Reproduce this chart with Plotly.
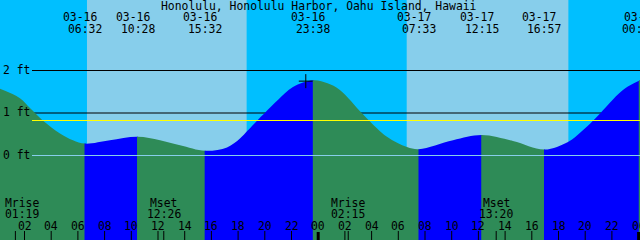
import plotly.graph_objects as go

# ---------------- data ----------------
title = "Honolulu, Honolulu Harbor, Oahu Island, Hawaii"

# tide curve samples: hours since 03-16 00:00, height in ft
curve_t = [0.165, 1.66, 2.41, 3.39, 4.66, 5.63, 6.533, 8.40, 10.467, 12.15, 13.65,
           15.533, 17.17, 18.14, 18.7, 19.42, 20.0, 21.0, 22.11, 23.633, 24.7, 25.6,
           27.26, 27.73, 29.15, 30.65, 31.55, 34.1, 36.25, 38.59, 40.95, 42.71,
           43.7, 44.58, 45.11, 46.08, 47.0, 48.105]
curve_ft = [1.57, 1.35, 1.12, 0.82, 0.52, 0.36, 0.28, 0.36, 0.44, 0.36, 0.24,
            0.11, 0.19, 0.40, 0.58, 0.82, 1.00, 1.31, 1.61, 1.77, 1.70, 1.55,
            1.00, 0.85, 0.44, 0.20, 0.15, 0.36, 0.48, 0.34, 0.14, 0.32,
            0.56, 0.82, 0.99, 1.32, 1.58, 1.77]

# high / low tide events
event_t = [6.533, 10.467, 15.533, 23.633, 31.55, 36.25, 40.95, 48.05]
event_date = ["03-16", "03-16", "03-16", "03-16", "03-17", "03-17", "03-17", "03-18"]
event_time = ["06:32", "10:28", "15:32", "23:38", "07:33", "12:15", "16:57", "00:03"]
first_segment_rising = False

# daylight
sunrise_t = [6.68, 30.63]
sunset_t = [18.64, 42.74]

# moon events
moon_t = [1.317, 12.433, 26.25, 37.333]
moon_name = ["Mrise", "Mset", "Mrise", "Mset"]
moon_time = ["01:19", "12:26", "02:15", "13:20"]

# hour ticks
hour_ticks = [0, 2, 4, 6, 8, 10, 12, 14, 16, 18, 20, 22,
              24, 26, 28, 30, 32, 34, 36, 38, 40, 42, 44, 46, 48]
hour_labels = ["00", "02", "04", "06", "08", "10", "12", "14", "16", "18", "20", "22",
               "00", "02", "04", "06", "08", "10", "12", "14", "16", "18", "20", "22", "00"]

# reference levels
level_ft = [2, 1, 0]
level_labels = ["2 ft", "1 ft", "0 ft"]
mean_level_ft = [0.8235]

# current-time marker
marker_t = [23.07]
marker_ft = [1.75]

# ---------------- styling / layout ----------------
W, H = 640, 240
PX_PER_H = 13.35
X_OFF = 2.2
T0 = X_OFF / PX_PER_H
T1 = (W + X_OFF) / PX_PER_H
Y0 = (155.5 - H) / 42.5
Y1 = 155.5 / 42.5

NIGHT = "#00BFFF"
DAY = "#87CEEB"
RISING = "#0000FF"
FALLING = "#2E8B57"
FONT = dict(family="DejaVu Sans Mono", size=11.4, color="black")


def t2px(t):
    return (t - T0) * PX_PER_H


fig = go.Figure()
layout = dict(
    width=W, height=H, margin=dict(l=0, r=0, t=0, b=0),
    paper_bgcolor=NIGHT, plot_bgcolor="rgba(0,0,0,0)",
    showlegend=False,
    xaxis=dict(domain=[0, 1], range=[T0, T1], visible=False, fixedrange=True),
    yaxis=dict(domain=[0, 1], range=[Y0, Y1], visible=False, fixedrange=True),
)
fig.add_trace(go.Scatter(x=[None], y=[None], xaxis="x", yaxis="y", hoverinfo="skip"))

# segments between tide extremes, each clipped by its own x axis
bounds = [T0] + [t for t in event_t if T0 < t < T1] + [T1]
rising = first_segment_rising
for i in range(len(bounds) - 1):
    ax_n = i + 2
    px0 = max(0.0, t2px(bounds[i]) - 0.5)
    px1 = min(float(W), t2px(bounds[i + 1]) + 0.5)
    layout[f"xaxis{ax_n}"] = dict(
        domain=[px0 / W, px1 / W],
        range=[T0 + px0 / PX_PER_H, T0 + px1 / PX_PER_H],
        visible=False, anchor="y", fixedrange=True)
    col = RISING if rising else FALLING
    fig.add_trace(go.Scatter(x=[curve_t[0], curve_t[-1]], y=[Y0 - 1, Y0 - 1],
                             mode="lines", line=dict(width=0, color=col),
                             xaxis=f"x{ax_n}", yaxis="y", hoverinfo="skip"))
    fig.add_trace(go.Scatter(x=curve_t, y=curve_ft, mode="lines",
                             line=dict(width=0, color=col, shape="spline"),
                             fill="tonexty", fillcolor=col,
                             xaxis=f"x{ax_n}", yaxis="y", hoverinfo="skip"))
    # current-time marker in the segment that contains it
    mx = [t for t in marker_t if bounds[i] <= t < bounds[i + 1]]
    if mx:
        my = [marker_ft[marker_t.index(t)] for t in mx]
        fig.add_trace(go.Scatter(x=mx, y=my, mode="markers",
                                 marker=dict(symbol="cross-thin", size=10,
                                             line=dict(width=1, color="black")),
                                 xaxis=f"x{ax_n}", yaxis="y", hoverinfo="skip"))
    rising = not rising

shapes = []
# daylight
for a, b in zip(sunrise_t, sunset_t):
    shapes.append(dict(type="rect", xref="x", yref="paper", x0=a, x1=b, y0=0, y1=1,
                       fillcolor=DAY, line=dict(width=0), layer="below"))
# reference lines behind the water
for lv in level_ft:
    if lv != 0:
        shapes.append(dict(type="line", xref="paper", yref="y", x0=32 / W, x1=1,
                           y0=lv, y1=lv, line=dict(color="black", width=1), layer="below"))
# zero line and mean level above the water
shapes.append(dict(type="line", xref="paper", yref="y", x0=32 / W, x1=1,
                   y0=0, y1=0, line=dict(color=DAY, width=1), layer="above"))
for lv in mean_level_ft:
    shapes.append(dict(type="line", xref="paper", yref="y", x0=32 / W, x1=1,
                       y0=lv, y1=lv, line=dict(color="#FFFF00", width=1), layer="above"))
# hour ticks
for h in hour_ticks:
    midnight = (h % 24 == 0)
    shapes.append(dict(type="line", xref="x", yref="paper", x0=h, x1=h,
                       y0=0, y1=(8 if midnight else 9) / H,
                       line=dict(color="black", width=3 if midnight else 1), layer="above"))
# moon ticks
for t in moon_t:
    shapes.append(dict(type="line", xref="x", yref="paper", x0=t, x1=t,
                       y0=0, y1=9 / H, line=dict(color="black", width=1), layer="above"))
layout["shapes"] = shapes


def py(p):
    return 1 - p / H


ann = []
ann.append(dict(text=title, xref="paper", yref="paper", x=318.5 / W, y=py(6),
                xanchor="center", yanchor="middle", showarrow=False, font=FONT))
for i, (t, d, tm) in enumerate(zip(event_t, event_date, event_time)):
    dx = -5 if i < len(event_t) - 1 else 2
    ann.append(dict(text=d, xref="x", yref="paper", x=t, y=py(17.5), xshift=dx,
                    xanchor="center", yanchor="middle", showarrow=False, font=FONT))
    ann.append(dict(text=tm, xref="x", yref="paper", x=t, y=py(29), xanchor="center",
                    yanchor="middle", showarrow=False, font=FONT))
for t, nm, tm in zip(moon_t, moon_name, moon_time):
    cx = t2px(t)
    shift = max(0.0, 22 - cx)
    ann.append(dict(text=nm, xref="x", yref="paper", x=t, y=py(202.5), xshift=shift,
                    xanchor="center", yanchor="middle", showarrow=False, font=FONT))
    ann.append(dict(text=tm, xref="x", yref="paper", x=t, y=py(213.5), xshift=shift,
                    xanchor="center", yanchor="middle", showarrow=False, font=FONT))
for h, lab in zip(hour_ticks, hour_labels):
    ann.append(dict(text=lab, xref="x", yref="paper", x=h, y=py(225.5),
                    xanchor="center", yanchor="middle", showarrow=False, font=FONT))
for lv, lab in zip(level_ft, level_labels):
    ann.append(dict(text=lab, xref="paper", yref="y", x=1 / W, y=lv, yshift=1,
                    xanchor="left", yanchor="middle", showarrow=False, font=FONT))
layout["annotations"] = ann

fig.update_layout(**layout)
fig.write_html("out.html")
